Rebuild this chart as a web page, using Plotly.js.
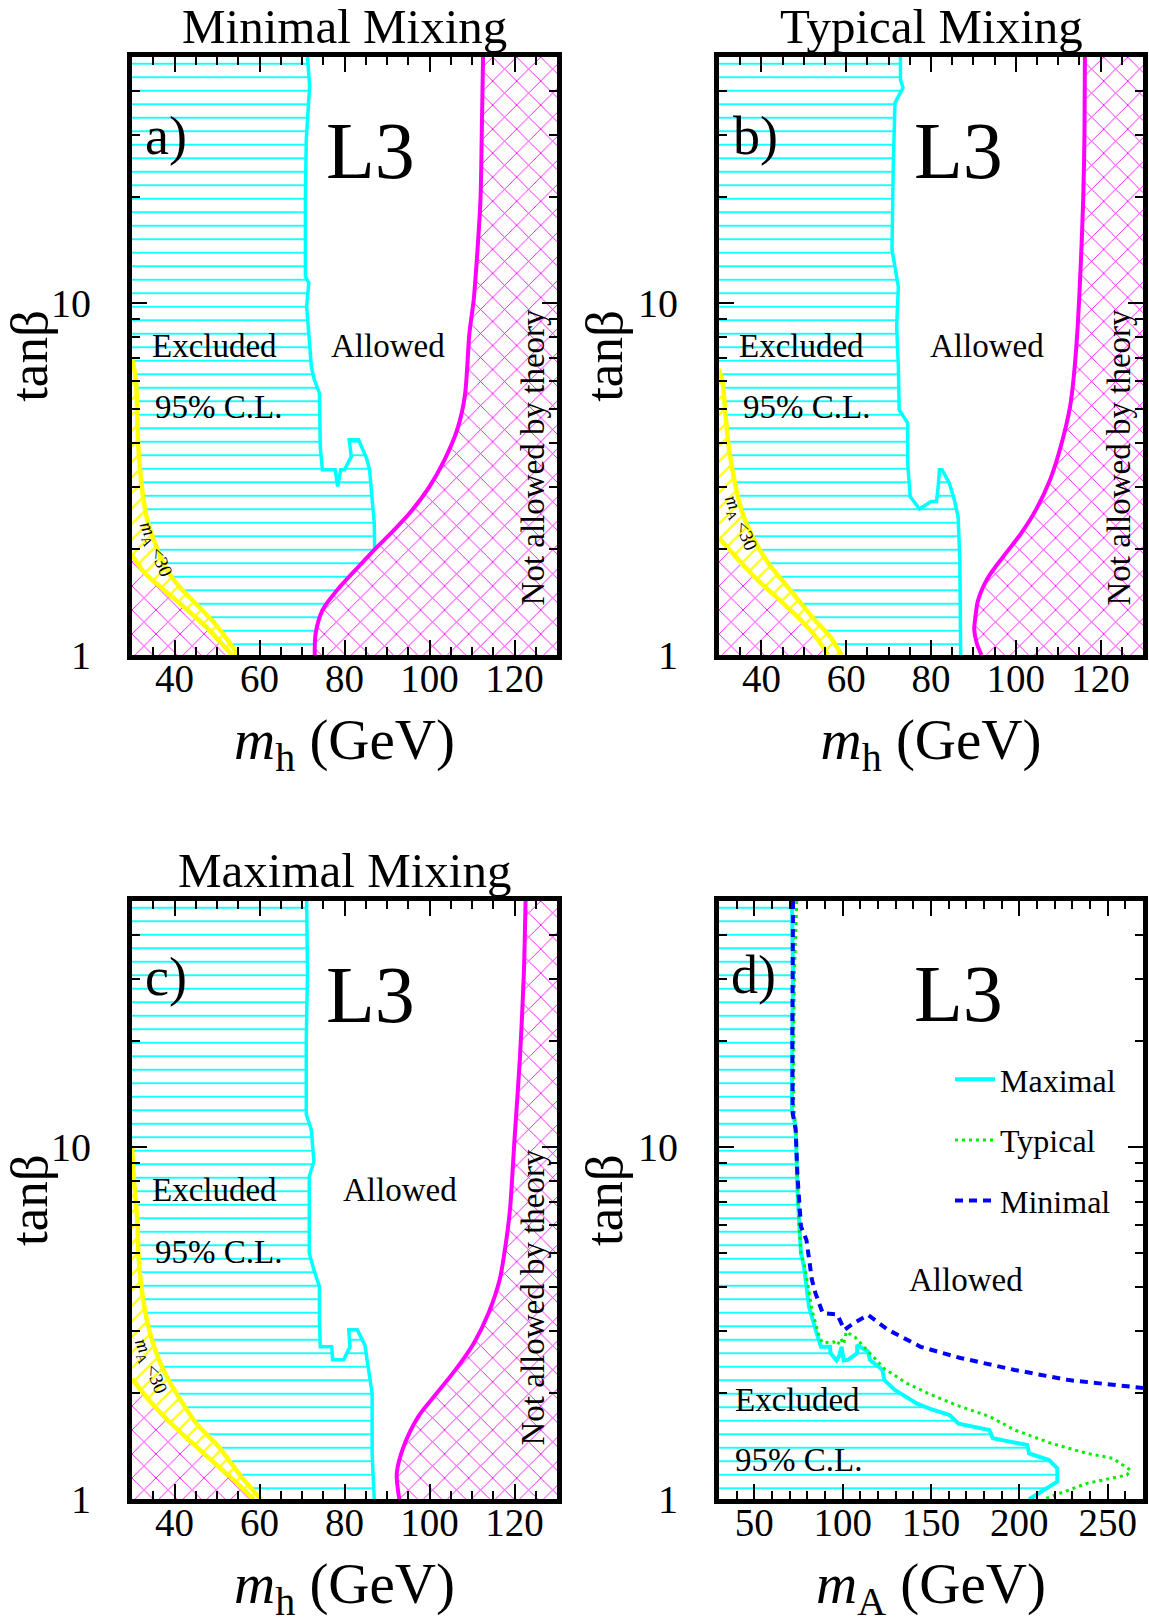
<!DOCTYPE html>
<html><head><meta charset="utf-8">
<script src="https://cdn.plot.ly/plotly-3.0.1.min.js"></script>
<style>html,body{margin:0;padding:0;background:#fff;}</style>
</head><body>
<div id="chart" style="width:1149px;height:1624px;"></div>
<script>
// ---------------- data ----------------
// axis ticks
const mhTicks = [40, 60, 80, 100, 120];
const mhMinor = [35, 45, 50, 55, 65, 70, 75, 85, 90, 95, 105, 110, 115, 125];
const maTicks = [50, 100, 150, 200, 250];
const maMinor = [40, 60, 70, 80, 90, 110, 120, 130, 140, 160, 170, 180, 190, 210, 220, 230, 240, 260];
const tbTicks = [1, 10];
const tbMinor = [2, 3, 4, 5, 6, 7, 8, 9, 20, 30, 40];

// panel a) minimal mixing
const aCyanX = [71.3, 71.8, 71.0, 70.8, 70.8, 71.6, 71.1, 71.6, 72.2, 72.9, 74.1, 74.3, 74.8, 77.8, 78.4, 79.1, 80.0, 81.6, 81.1, 83.3, 85.2, 85.9, 86.3, 87.0, 87.1];
const aCyanY = [50, 41.3, 29.1, 19.7, 11.9, 11.4, 9.78, 8.22, 6.6, 6.05, 5.55, 3.91, 3.36, 3.36, 3.01, 3.36, 3.36, 3.66, 4.09, 4.09, 3.62, 3.36, 3.01, 2.37, 1.99];
const aTheoX = [73.0, 73.2, 74.8, 78.3, 82.6, 87.0, 91.3, 95.7, 100.0, 103.5, 106.5, 108.3, 109.4, 110.4, 111.3, 112.0, 112.3, 112.6];
const aTheoY = [1.0, 1.15, 1.34, 1.53, 1.745, 1.99, 2.24, 2.56, 3.01, 3.58, 4.36, 5.43, 8.22, 10.2, 14.2, 19.7, 30.4, 50];
const aYelUpX = [30, 30.9, 31.5, 32.4, 33.6, 35.4, 37.8, 41.2, 45.8, 50.2, 55.0];
const aYelUpY = [7.0, 6.05, 3.91, 2.94, 2.42, 2.08, 1.78, 1.56, 1.37, 1.20, 1.0];
const aYelLoX = [30, 33.0, 37.5, 42.2, 47.5, 53.5];
const aYelLoY = [1.92, 1.71, 1.53, 1.37, 1.20, 1.0];

// panel b) typical mixing
const bCyanX = [72.8, 72.8, 73.4, 71.5, 71.1, 70.8, 72.3, 71.9, 72.3, 72.3, 72.5, 74.5, 74.5, 75.1, 77.3, 80.0, 81.3, 81.7, 82.0, 82.6, 84.3, 85.5, 86.4, 86.8, 87.0];
const bCyanY = [50, 43.1, 40.9, 37.0, 24.5, 14.2, 11.1, 8.58, 6.6, 6.05, 4.97, 4.56, 3.51, 2.82, 2.60, 2.73, 2.73, 3.01, 3.36, 3.36, 3.08, 2.76, 2.47, 1.86, 1.0];
const bTheoX = [91.9, 90.8, 90.2, 90.4, 91.1, 93.6, 97.0, 101.3, 104.7, 108.1, 110.6, 112.8, 113.6, 114.5, 115.3, 115.9, 116.2, 116.3];
const bTheoY = [1.0, 1.08, 1.18, 1.26, 1.43, 1.67, 1.90, 2.22, 2.58, 3.15, 3.91, 5.08, 6.05, 8.22, 12.7, 19.7, 30.4, 50];
const bYelUpX = [30, 30.9, 31.5, 32.3, 33.6, 35.3, 37.9, 41.7, 46.8, 51.9, 56.2, 58.9];
const bYelUpY = [6.5, 5.9, 4.87, 3.91, 3.15, 2.58, 2.17, 1.82, 1.53, 1.285, 1.127, 1.0];
const bYelLoX = [30, 34.0, 38.3, 43.4, 48.5, 52.8, 55.7];
const bYelLoY = [2.15, 1.90, 1.67, 1.465, 1.285, 1.127, 1.0];

// panel c) maximal mixing
const cCyanX = [71.1, 71.3, 71.0, 71.0, 72.2, 72.8, 71.7, 71.7, 71.9, 71.7, 72.8, 74.1, 74.1, 74.3, 77.0, 77.2, 79.8, 81.3, 81.0, 83.0, 84.8, 85.4, 86.1, 86.5, 86.5, 87.0];
const cCyanY = [50, 31.2, 20.2, 12.4, 11.2, 9.1, 8.25, 6.22, 5.45, 5.0, 4.48, 4.02, 3.23, 2.71, 2.71, 2.49, 2.49, 2.71, 3.03, 3.03, 2.74, 2.43, 2.18, 2.0, 1.35, 1.0];
const cTheoX = [92.9, 92.3, 93.9, 97.4, 101.7, 106.1, 110.4, 113.9, 116.5, 118.3, 119.0, 120.0, 121.3, 122.2, 122.6];
const cTheoY = [1.0, 1.185, 1.41, 1.72, 2.0, 2.33, 2.77, 3.38, 4.2, 5.7, 6.78, 10.5, 18.1, 31.2, 50];
const cYelUpX = [30, 30.5, 31.3, 31.5, 32.2, 33.5, 35.2, 37.4, 40.9, 45.2, 50.4, 55.7, 60.4];
const cYelUpY = [10, 8, 6.08, 5.0, 4.02, 3.23, 2.71, 2.33, 1.96, 1.64, 1.41, 1.16, 1.0];
const cYelLoX = [30, 33.9, 38.3, 43.5, 48.7, 53.9, 58.7];
const cYelLoY = [2.2, 1.92, 1.68, 1.47, 1.29, 1.134, 1.0];

// panel d) limits in the (mA, tanb) plane
const dMaxX = [71.3, 71.9, 71.5, 71.3, 73.4, 73.8, 74.4, 75.4, 76.4, 78.1, 79.5, 80.9, 84.2, 87.7, 92.8, 93.2, 96.5, 98.0, 99.4, 100.6, 103.1, 108.2, 108.2, 114.3, 115.4, 122.5, 123.6, 129.7, 142.0, 149.2, 160.5, 165.6, 183.0, 185.0, 204.5, 205.5, 216.8, 221.5, 221.5, 205.5];
const dMaxY = [50, 31.2, 20.2, 12.8, 11.45, 9.4, 7.56, 6.08, 5.0, 4.58, 4.02, 3.53, 3.09, 2.71, 2.71, 2.60, 2.48, 2.55, 2.71, 2.48, 2.49, 2.60, 2.74, 2.63, 2.49, 2.33, 2.18, 2.04, 1.87, 1.81, 1.735, 1.64, 1.574, 1.49, 1.426, 1.35, 1.293, 1.225, 1.122, 1.0];
const dTypX = [74.0, 72.7, 72.3, 72.3, 73.6, 74.4, 75.2, 76.4, 78.5, 80.5, 82.6, 86.7, 88.7, 94.9, 97.0, 99.0, 100.6, 102.0, 107.2, 115.4, 123.6, 135.9, 148.2, 164.5, 183.0, 197.3, 217.8, 238.3, 252.7, 262.9, 260.9, 238.3, 213.7];
const dTypY = [50, 31.2, 20.2, 13.0, 11.2, 8.3, 6.1, 5.0, 4.58, 4.02, 3.45, 2.90, 2.78, 2.80, 2.74, 2.86, 2.76, 2.99, 2.88, 2.60, 2.35, 2.14, 2.0, 1.85, 1.72, 1.574, 1.443, 1.35, 1.308, 1.211, 1.172, 1.11, 1.0];
const dMinX = [71.9, 71.5, 71.5, 71.7, 73.4, 74.4, 76.4, 79.5, 80.5, 82.6, 84.6, 88.7, 96.9, 101.0, 106.1, 114.3, 125.6, 144.1, 166.6, 197.3, 228.1, 270];
const dMinY = [50, 31.2, 20.2, 12.5, 11.2, 8.3, 5.95, 5.45, 5.0, 4.2, 3.85, 3.38, 3.35, 3.03, 3.16, 3.34, 3.03, 2.71, 2.52, 2.33, 2.18, 2.07];

// ---------------- styling ----------------
const FONT = "'Liberation Serif', 'Times New Roman', serif";
const CYAN = '#00ffff', MAG = '#ff00ff', YEL = '#ffff00';
const MH_RANGE = [30, 130], MA_RANGE = [30, 270], TB_RANGE = [1, 50];

function poly(xs, ys, ax, shape, color, size, solidity) {
  return {x: xs, y: ys, xaxis: 'x' + ax, yaxis: 'y' + ax, type: 'scatter', mode: 'lines',
    line: {width: 0, color: 'rgba(0,0,0,0)'}, fill: 'toself', fillcolor: 'rgba(0,0,0,0)',
    fillpattern: {shape: shape, fgcolor: color, bgcolor: 'rgba(0,0,0,0)', size: size, solidity: solidity},
    hoverinfo: 'skip', showlegend: false};
}
function curve(xs, ys, ax, color, width, dash, name, show, smooth) {
  const ln = {color: color, width: width, dash: dash || 'solid'};
  if (smooth) { ln.shape = 'spline'; ln.smoothing = 0.8; }
  return {x: xs, y: ys, xaxis: 'x' + ax, yaxis: 'y' + ax, type: 'scatter', mode: 'lines',
    line: ln, name: name || '', legendgroup: name || undefined, showlegend: !!show, hoverinfo: 'skip'};
}

function mixPanel(ax, cx, cy, mx, my, ux, uy, lx, ly) {
  const [X0, X1] = MH_RANGE, [Y0, Y1] = TB_RANGE;
  const tr = [];
  // excluded region (cyan horizontal hatch)
  const px = [X0].concat(cx), py = [Y1].concat(cy);
  const endY = cy[cy.length - 1];
  if (endY > Y0) {
    for (let i = mx.length - 1; i >= 0; i--) if (my[i] < endY) { px.push(mx[i]); py.push(my[i]); }
  }
  for (let i = ux.length - 1; i >= 0; i--) { px.push(ux[i]); py.push(uy[i]); }
  tr.push(poly(px, py, ax, '-', CYAN, 13.5, 0.13));
  // theoretically forbidden regions (magenta cross hatch)
  tr.push(poly(mx.concat([X1, X1]), my.concat([Y1, Y0]), ax, 'x', MAG, 17, 0.1));
  tr.push(poly(lx.concat([X0]), ly.concat([Y0]), ax, 'x', MAG, 17, 0.1));
  // mA < 30 band (yellow hatch)
  tr.push(poly(ux.concat(lx.slice().reverse()), uy.concat(ly.slice().reverse()), ax, '/', YEL, 11, 0.2));
  // boundary lines
  tr.push(curve(ux, uy, ax, YEL, 4.5, null, null, false, true));
  tr.push(curve(lx, ly, ax, YEL, 4.5, null, null, false, true));
  tr.push(curve(cx, cy, ax, CYAN, 3.5));
  tr.push(curve(mx, my, ax, MAG, 4, null, null, false, true));
  return tr;
}

let data = [];
data = data.concat(mixPanel('', aCyanX, aCyanY, aTheoX, aTheoY, aYelUpX, aYelUpY, aYelLoX, aYelLoY));
data = data.concat(mixPanel('2', bCyanX, bCyanY, bTheoX, bTheoY, bYelUpX, bYelUpY, bYelLoX, bYelLoY));
data = data.concat(mixPanel('3', cCyanX, cCyanY, cTheoX, cTheoY, cYelUpX, cYelUpY, cYelLoX, cYelLoY));
// panel d
data.push(poly([MA_RANGE[0]].concat(dMaxX, [MA_RANGE[0]]), [TB_RANGE[1]].concat(dMaxY, [TB_RANGE[0]]), '4', '-', CYAN, 13.5, 0.13));
data.push(curve(dMaxX, dMaxY, '4', CYAN, 4, 'solid', 'Maximal', true));
data.push(curve(dTypX, dTypY, '4', '#00ee00', 3, '3px,4px', 'Typical', true));
data.push(curve(dMinX, dMinY, '4', '#0000ff', 4, '8px,6px', 'Minimal', true));

// ---------------- layout ----------------
const W = 1149, H = 1624;
const colA = [132 / W, 557 / W], colB = [719 / W, 1143 / W];
const rowTop = [1 - 655 / H, 1 - 57 / H], rowBot = [1 - 1499.3 / H, 1 - 901 / H];

function xax(domain, anchor, ticks, minor, range, title) {
  return {domain: domain, anchor: anchor, range: range, type: 'linear',
    tickmode: 'array', tickvals: ticks, ticks: 'inside', ticklen: 15, tickwidth: 2, tickcolor: '#000',
    minor: {tickmode: 'array', tickvals: minor, ticks: 'inside', ticklen: 8, tickwidth: 2, tickcolor: '#000', showgrid: false},
    showline: true, linewidth: 5, linecolor: '#000', mirror: 'allticks', showgrid: false, zeroline: false,
    tickfont: {family: FONT, size: 39, color: '#000'}, ticklabelstandoff: -15,
    title: {text: title, font: {family: FONT, size: 57, color: '#000'}, standoff: 22}, fixedrange: true};
}
function yax(domain, anchor) {
  return {domain: domain, anchor: anchor, type: 'log', range: [Math.log10(TB_RANGE[0]), Math.log10(TB_RANGE[1])],
    tickmode: 'array', tickvals: tbTicks, ticktext: ['1', '10'], ticks: 'inside', ticklen: 15, tickwidth: 2, tickcolor: '#000',
    minor: {tickmode: 'array', tickvals: tbMinor, ticks: 'inside', ticklen: 8, tickwidth: 2, tickcolor: '#000', showgrid: false},
    showline: true, linewidth: 5, linecolor: '#000', mirror: 'allticks', showgrid: false, zeroline: false,
    tickfont: {family: FONT, size: 40, color: '#000'}, ticklabelstandoff: 28,
    title: {text: 'tanβ', font: {family: FONT, size: 53, color: '#000'}, standoff: 0}, fixedrange: true};
}
const MH_TITLE = '<i>m</i><sub>h</sub> (GeV)', MA_TITLE = '<i>m</i><sub>A</sub> (GeV)';

function txt(ax, x, y, text, size, opts) {
  return Object.assign({xref: 'x' + ax, yref: 'y' + ax, x: x, y: Math.log10(y), text: text, showarrow: false,
    font: {family: FONT, size: size, color: '#000'}, xanchor: 'center', yanchor: 'middle'}, opts || {});
}
const MA30 = '<i>m</i><sub>A</sub> &lt;30';
const annotations = [
  // panel a
  txt('', 37.9, 29.8, 'a)', 54), txt('', 86.2, 27.1, 'L3', 80),
  txt('', 49.4, 7.53, 'Excluded', 33), txt('', 35.0, 5.08, '95% C.L.', 33, {xanchor: 'left'}),
  txt('', 90.2, 7.53, 'Allowed', 33), txt('', 124.3, 3.66, 'Not allowed by theory', 33, {textangle: -90}),
  txt('', 35.5, 1.99, MA30, 19, {textangle: 68}),
  // panel b
  txt('2', 38.7, 29.8, 'b)', 54), txt('2', 86.4, 27.1, 'L3', 80),
  txt('2', 49.4, 7.53, 'Excluded', 33), txt('2', 35.1, 5.08, '95% C.L.', 33, {xanchor: 'left'}),
  txt('2', 93.2, 7.53, 'Allowed', 33), txt('2', 124.3, 3.66, 'Not allowed by theory', 33, {textangle: -90}),
  txt('2', 34.9, 2.37, MA30, 19, {textangle: 68}),
  // panel c
  txt('3', 37.9, 30.4, 'c)', 54), txt('3', 86.1, 27.1, 'L3', 80),
  txt('3', 49.4, 7.56, 'Excluded', 33), txt('3', 35.0, 5.05, '95% C.L.', 33, {xanchor: 'left'}),
  txt('3', 93.0, 7.56, 'Allowed', 33), txt('3', 124.3, 3.76, 'Not allowed by theory', 33, {textangle: -90}),
  txt('3', 34.3, 2.38, MA30, 19, {textangle: 68}),
  // panel d
  txt('4', 49.8, 30.9, 'd)', 54), txt('4', 165.6, 27.3, 'L3', 80),
  txt('4', 170, 4.2, 'Allowed', 33), txt('4', 74.4, 1.92, 'Excluded', 33), txt('4', 74.8, 1.29, '95% C.L.', 33),
  // panel titles
  {xref: 'paper', yref: 'paper', x: (colA[0] + colA[1]) / 2, y: rowTop[1], yshift: 1, xanchor: 'center', yanchor: 'bottom',
   text: 'Minimal Mixing', showarrow: false, font: {family: FONT, size: 49, color: '#000'}},
  {xref: 'paper', yref: 'paper', x: (colB[0] + colB[1]) / 2, y: rowTop[1], yshift: 1, xanchor: 'center', yanchor: 'bottom',
   text: 'Typical Mixing', showarrow: false, font: {family: FONT, size: 49, color: '#000'}},
  {xref: 'paper', yref: 'paper', x: (colA[0] + colA[1]) / 2, y: rowBot[1], yshift: 1, xanchor: 'center', yanchor: 'bottom',
   text: 'Maximal Mixing', showarrow: false, font: {family: FONT, size: 49, color: '#000'}}
];

const layout = {
  width: W, height: H, margin: {l: 0, r: 0, t: 0, b: 0},
  paper_bgcolor: '#fff', plot_bgcolor: '#fff',
  xaxis: xax(colA, 'y', mhTicks, mhMinor, MH_RANGE, MH_TITLE),
  yaxis: yax(rowTop, 'x'),
  xaxis2: xax(colB, 'y2', mhTicks, mhMinor, MH_RANGE, MH_TITLE),
  yaxis2: yax(rowTop, 'x2'),
  xaxis3: xax(colA, 'y3', mhTicks, mhMinor, MH_RANGE, MH_TITLE),
  yaxis3: yax(rowBot, 'x3'),
  xaxis4: xax(colB, 'y4', maTicks, maMinor, MA_RANGE, MA_TITLE),
  yaxis4: yax(rowBot, 'x4'),
  showlegend: true,
  legend: {x: 950 / W, y: 1 - 1052 / H, xanchor: 'left', yanchor: 'top', bgcolor: 'rgba(0,0,0,0)', borderwidth: 0,
    font: {family: FONT, size: 32, color: '#000'}, itemwidth: 40, tracegroupgap: 16, traceorder: 'grouped'},
  annotations: annotations
};

Plotly.newPlot('chart', data, layout, {displayModeBar: false, staticPlot: true});
</script>
</body></html>
